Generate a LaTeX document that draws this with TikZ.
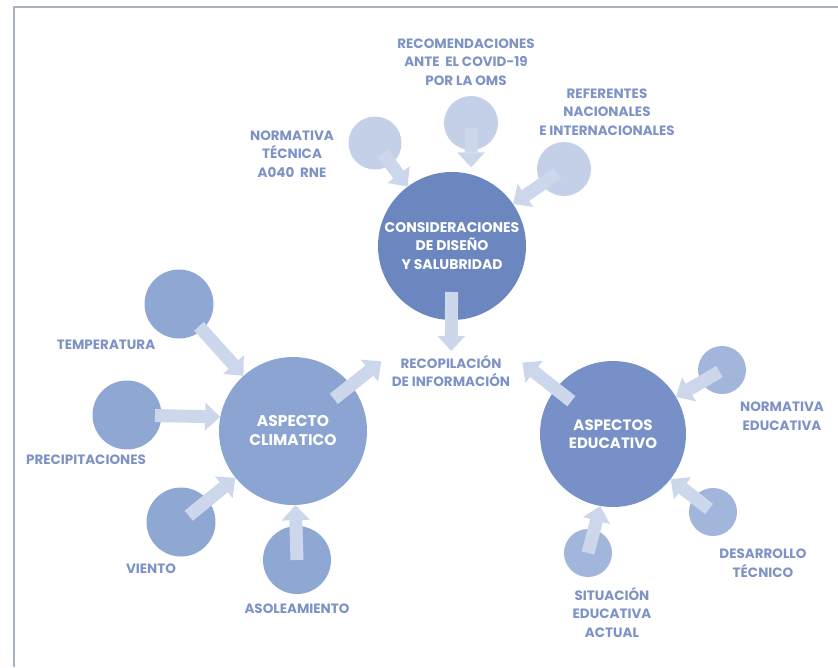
\documentclass[tikz,border=0pt]{standalone}
\usepackage{fontspec}
\setmainfont{Poppins}
\usetikzlibrary{arrows.meta}
\definecolor{framec}{HTML}{A9B3C3}
\definecolor{txt}{HTML}{7D93C5}
\definecolor{consc}{HTML}{6C87BF}
\definecolor{climc}{HTML}{8CA4D2}
\definecolor{educ}{HTML}{7790C8}
\definecolor{lsmall}{HTML}{8FA7D3}
\definecolor{tsmall}{HTML}{C4D0E8}
\definecolor{rsmall}{HTML}{A2B5DB}
\definecolor{arrc}{HTML}{CCD7EC}
\begin{document}
\begin{tikzpicture}[x=1pt,y=-1pt,
  bigc/.style={circle, minimum size=148pt, inner sep=0pt, text=white,
    font=\fontsize{14}{18.5}\selectfont\bfseries, align=center},
  smallc/.style={circle, inner sep=0pt, minimum size=#1},
  lab/.style={text=txt, font=\fontsize{13.5}{18.5}\selectfont\bfseries, align=center, inner sep=1pt},
  blockarrow/.style={draw=arrc, line width=13pt,
    -{Triangle[width=28pt,length=15pt,line width=0pt]}},
]
\useasboundingbox (0,0) rectangle (838,667);
% frame (left and top edges only)
\draw[framec, line width=1.3pt] (14,667) -- (14,7) -- (838,7);

% main circles
\node[bigc, fill=consc] (cons) at (452,246) {CONSIDERACIONES\\DE DISEÑO\\Y SALUBRIDAD};
\node[bigc, fill=climc, font=\fontsize{15.5}{19}\selectfont\bfseries] (clim) at (293,431) {ASPECTO\\CLIMATICO};
\node[bigc, fill=educ, minimum size=146pt, font=\fontsize{15}{18.5}\selectfont\bfseries] (edu) at (613,434) {ASPECTOS\\EDUCATIVO};

% central text
\node[lab] (recop) at (451,371) {RECOPILACIÓN\\DE INFORMACIÓN};

% top small circles
\node[smallc=53pt, fill=tsmall] (nt) at (375,143) {};
\node[smallc=54pt, fill=tsmall] (rc) at (471,123) {};
\node[smallc=54pt, fill=tsmall] (rf) at (564,169) {};

% left small circles
\node[smallc=69pt, fill=lsmall] (tp) at (179,304) {};
\node[smallc=69pt, fill=lsmall] (pr) at (127,415) {};
\node[smallc=69pt, fill=lsmall] (vi) at (181,522) {};
\node[smallc=68pt, fill=lsmall] (as) at (297,560) {};

% right small circles
\node[smallc=48pt, fill=rsmall] (ne) at (722,370) {};
\node[smallc=48pt, fill=rsmall] (dt) at (713,512) {};
\node[smallc=48pt, fill=rsmall] (se) at (588,553) {};

% labels
\node[lab] (lnt) at (292,154) {NORMATIVA\\TÉCNICA\\A040~~RNE};
\node[lab] (lrc) at (466,62) {RECOMENDACIONES\\ANTE~~EL COVID-19\\POR LA OMS};
\node[lab] (lrf) at (607,112) {REFERENTES\\NACIONALES\\E INTERNACIONALES};
\node[lab] (ltp) at (106,345) {TEMPERATURA};
\node[lab] (lpr) at (86,460) {PRECIPITACIONES};
\node[lab] (lvi) at (151,569) {VIENTO};
\node[lab] (las) at (297,609) {ASOLEAMIENTO};
\node[lab] (lne) at (782,416) {NORMATIVA\\EDUCATIVA};
\node[lab] (ldt) at (763,563) {DESARROLLO\\TÉCNICO};
\node[lab] (lse) at (612,612) {SITUACIÓN\\EDUCATIVA\\ACTUAL};

% arrows into consideraciones
\draw[blockarrow, shorten <=13pt] (nt.center) -- (cons);
\draw[blockarrow, shorten <=5pt, shorten >=7pt] (rc.center) -- (cons.75);
\draw[blockarrow, shorten <=8pt] (rf.center) -- (cons);

% arrows into climatico
\draw[blockarrow, shorten <=30pt] (tp.center) -- (clim);
\draw[blockarrow, shorten <=28pt] (pr.center) -- (clim.169);
\draw[blockarrow, shorten <=10pt] (vi.center) -- (clim);
\draw[blockarrow] (as.center) -- (clim);

% arrows into educativo
\draw[blockarrow, shorten <=3pt] (ne.center) -- (edu);
\draw[blockarrow, shorten <=5pt] (dt.center) -- (edu.-38);
\draw[blockarrow] (se.center) -- (edu.-100);

% arrows into recopilacion
\draw[blockarrow, shorten <=46pt, shorten >=3pt] (cons.center) -- (recop);
\draw[blockarrow, shorten <=52pt, shorten >=12pt] (clim.center) -- (recop.north west);
\draw[blockarrow, shorten <=53pt, shorten >=14pt] (edu.center) -- (recop.north east);
\end{tikzpicture}
\end{document}
